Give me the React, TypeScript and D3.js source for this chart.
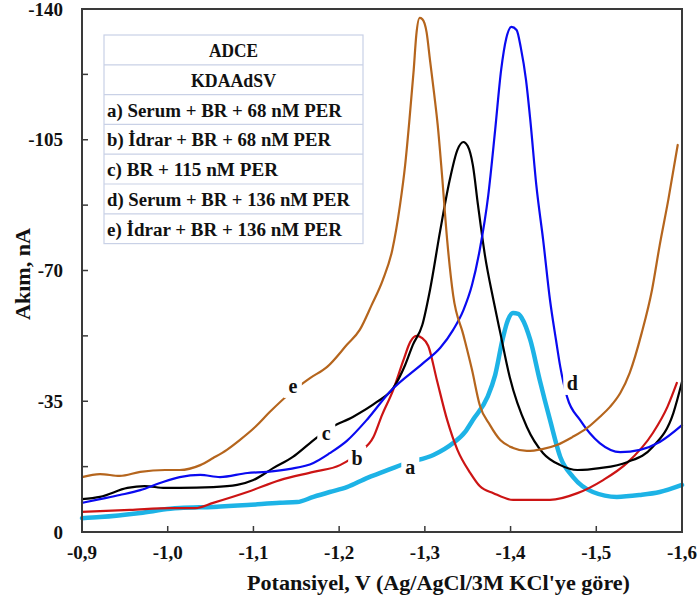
import React from "react";
import * as d3 from "d3";

// Potential (V) and current (nA) readings for each voltammogram
const curveA: [number, number][] = [
  [-0.9, -3.7], [-0.921, -4.0], [-0.968, -5.1], [-1.003, -6.2], [-1.014, -6.4], [-1.053, -6.7],
  [-1.093, -7.2], [-1.131, -7.8], [-1.151, -8.0], [-1.17, -9.4], [-1.189, -10.7], [-1.209, -12.0],
  [-1.233, -14.5], [-1.248, -15.8], [-1.279, -18.5], [-1.31, -20.6], [-1.333, -23.8], [-1.347, -26.8],
  [-1.356, -30.0], [-1.373, -36.1], [-1.382, -42.0], [-1.391, -51.9], [-1.397, -56.8], [-1.403, -58.6],
  [-1.409, -58.4], [-1.413, -57.3], [-1.423, -51.4], [-1.434, -40.7], [-1.446, -30.0], [-1.458, -20.1],
  [-1.473, -14.7], [-1.496, -10.7], [-1.524, -9.4], [-1.551, -9.9], [-1.574, -10.7], [-1.6, -12.6],
];
const curveB: [number, number][] = [
  [-0.9, -5.4], [-0.956, -5.9], [-1.003, -6.4], [-1.032, -6.4], [-1.053, -7.8], [-1.093, -10.7],
  [-1.131, -13.9], [-1.17, -16.1], [-1.201, -17.9], [-1.224, -21.4], [-1.24, -25.4], [-1.25, -31.3],
  [-1.263, -38.0], [-1.275, -46.0], [-1.283, -50.9], [-1.29, -52.5], [-1.297, -51.9], [-1.304, -49.8],
  [-1.314, -40.7], [-1.326, -30.0], [-1.338, -22.0], [-1.353, -15.8], [-1.364, -12.3], [-1.38, -10.4],
  [-1.403, -8.6], [-1.446, -8.6], [-1.478, -10.4], [-1.508, -13.9], [-1.536, -18.5], [-1.566, -26.5],
  [-1.583, -33.5], [-1.594, -39.9],
];
const curveC: [number, number][] = [
  [-0.9, -8.8], [-0.921, -9.4], [-0.953, -11.8], [-0.973, -12.3], [-0.997, -11.8], [-1.014, -11.8],
  [-1.053, -12.0], [-1.081, -12.6], [-1.1, -13.9], [-1.123, -17.1], [-1.146, -20.1], [-1.166, -23.8],
  [-1.189, -27.8], [-1.216, -30.8], [-1.244, -34.8], [-1.263, -38.5], [-1.277, -44.7], [-1.286, -50.1],
  [-1.297, -55.4], [-1.306, -64.8], [-1.318, -80.8], [-1.329, -94.2], [-1.338, -102.3], [-1.345, -104.4],
  [-1.35, -103.3], [-1.356, -98.2], [-1.362, -87.5], [-1.37, -74.2], [-1.38, -62.1], [-1.388, -53.3],
  [-1.399, -41.5], [-1.419, -28.1], [-1.438, -21.1], [-1.458, -17.9], [-1.478, -16.6], [-1.504, -17.1],
  [-1.536, -18.7], [-1.566, -22.8], [-1.59, -31.9], [-1.6, -40.2],
];
const curveD: [number, number][] = [
  [-0.9, -7.8], [-0.921, -8.8], [-0.944, -9.9], [-0.968, -11.2], [-0.991, -13.1], [-1.014, -14.7],
  [-1.038, -15.3], [-1.061, -14.7], [-1.093, -15.8], [-1.116, -16.1], [-1.143, -16.9], [-1.17, -18.5],
  [-1.189, -21.1], [-1.209, -24.4], [-1.233, -30.2], [-1.259, -37.5], [-1.298, -45.2], [-1.318, -49.3],
  [-1.333, -54.1], [-1.345, -59.4], [-1.355, -66.1], [-1.364, -75.5], [-1.374, -90.2], [-1.382, -107.6],
  [-1.389, -123.7], [-1.395, -132.2], [-1.401, -135.2], [-1.407, -134.4], [-1.412, -129.6], [-1.418, -121.0],
  [-1.423, -110.3], [-1.43, -92.9], [-1.438, -78.2], [-1.446, -62.1], [-1.453, -51.4], [-1.458, -44.2],
  [-1.466, -36.1], [-1.481, -30.0], [-1.504, -23.8], [-1.528, -21.4], [-1.551, -22.0], [-1.574, -24.1],
  [-1.6, -28.6],
];
const curveE: [number, number][] = [
  [-0.9, -14.7], [-0.921, -15.5], [-0.944, -15.0], [-0.968, -16.1], [-0.997, -16.6], [-1.014, -16.6],
  [-1.038, -17.9], [-1.053, -19.8], [-1.069, -22.0], [-1.084, -24.6], [-1.102, -28.1], [-1.119, -32.1],
  [-1.143, -37.2], [-1.166, -41.2], [-1.186, -44.2], [-1.209, -50.1], [-1.224, -54.1], [-1.238, -60.8],
  [-1.251, -67.5], [-1.262, -75.5], [-1.271, -87.5], [-1.277, -98.2], [-1.282, -110.3], [-1.287, -123.7],
  [-1.29, -133.0], [-1.294, -137.6], [-1.297, -137.3], [-1.302, -133.8], [-1.306, -126.3], [-1.311, -117.0],
  [-1.315, -108.9], [-1.32, -95.6], [-1.326, -78.2], [-1.333, -63.4], [-1.345, -52.7], [-1.355, -43.4],
  [-1.364, -34.0], [-1.376, -28.6], [-1.388, -24.6], [-1.403, -22.5], [-1.419, -21.7], [-1.437, -22.2],
  [-1.454, -23.3], [-1.472, -25.4], [-1.489, -27.8], [-1.504, -30.8], [-1.516, -33.5], [-1.528, -37.2],
  [-1.539, -42.6], [-1.553, -53.3], [-1.565, -64.8], [-1.574, -76.8], [-1.584, -88.9], [-1.595, -103.6],
];

const seriesIds = ["a", "b", "c", "d", "e"];
const seriesColors = ["#1db3e6", "#cc1414", "#000000", "#0a0af0", "#b5651d"];
const seriesWidths = [4.5, 2.2, 2.2, 2.2, 2.2];
const seriesData = [curveA, curveB, curveC, curveD, curveE];
// label anchor positions (V, nA)
const labelPos: [number, number][] = [
  [-1.283, -17.4], [-1.221, -19.8], [-1.185, -26.5], [-1.472, -39.9], [-1.146, -39.1],
];

const legendTitle = ["ADCE", "KDAAdSV"];
const legendRows = [
  "a) Serum + BR + 68 nM PER",
  "b) İdrar + BR + 68 nM PER",
  "c) BR + 115 nM PER",
  "d) Serum + BR + 136 nM PER",
  "e) İdrar + BR + 136 nM PER",
];
const legendTextWidths = [49, 85, 235, 224, 171, 243, 235];

const xTickValues = [-0.9, -1.0, -1.1, -1.2, -1.3, -1.4, -1.5, -1.6];
const yMajorTicks = [0, -35, -70, -105, -140];
const yAllTicks = [0, -17.5, -35, -52.5, -70, -87.5, -105, -122.5, -140];

const W = 698, H = 603;
const M = { left: 82, right: 682, top: 9, bottom: 532 };
const FONT = "'Liberation Serif', 'Times New Roman', serif";
const INK = "#111";

export default function App() {
  const x = d3.scaleLinear().domain([-0.9, -1.6]).range([M.left, M.right]);
  const y = d3.scaleLinear().domain([0, -140]).range([M.bottom, M.top]);
  const line = d3
    .line<[number, number]>()
    .x((d) => x(d[0]))
    .y((d) => y(d[1]))
    .curve(d3.curveMonotoneX);
  const fmtX = (v: number) => v.toFixed(1).replace(".", ",");

  const legX = 104, legY = 35, legW = 259, rowH = 29.8;
  const allRows = [...legendTitle, ...legendRows];

  return (
    <svg
      width={W}
      height={H}
      style={{ position: "absolute", left: 0, top: 0, background: "#fff" }}
      fontFamily={FONT}
      fontWeight="bold"
    >
      <rect x={0} y={0} width={W} height={H} fill="#fff" />
      {/* curves */}
      {seriesData.map((d, i) => (
        <path
          key={seriesIds[i]}
          d={line(d) || ""}
          fill="none"
          stroke={seriesColors[i]}
          strokeWidth={seriesWidths[i]}
          strokeLinejoin="round"
          strokeLinecap="round"
        />
      ))}
      {/* curve labels with gaps */}
      {labelPos.map((p, i) => (
        <g key={"lab" + i}>
          <rect x={x(p[0]) - 9} y={y(p[1]) - 12} width={18} height={24} fill="#fff" />
          <text
            x={x(p[0])}
            y={y(p[1])}
            textAnchor="middle"
            dominantBaseline="central"
            fontSize={20}
            fill={INK}
          >
            {seriesIds[i]}
          </text>
        </g>
      ))}
      {/* frame */}
      <rect
        x={M.left}
        y={M.top}
        width={M.right - M.left}
        height={M.bottom - M.top}
        fill="none"
        stroke="#3a3a3a"
        strokeWidth={2}
      />
      {/* x ticks */}
      {xTickValues.map((v) => (
        <g key={"xt" + v}>
          <line x1={x(v)} x2={x(v)} y1={M.bottom} y2={M.bottom - 6} stroke="#3a3a3a" strokeWidth={1.5} />
          <text x={x(v)} y={559} textAnchor="middle" fontSize={19} fill={INK}>
            {fmtX(v)}
          </text>
        </g>
      ))}
      {/* y ticks */}
      {yAllTicks.map((v) => (
        <line key={"yt" + v} x1={M.left} x2={M.left + 6} y1={y(v)} y2={y(v)} stroke="#3a3a3a" strokeWidth={1.5} />
      ))}
      {yMajorTicks.map((v) => (
        <text key={"yl" + v} x={63} y={y(v)} textAnchor="end" dominantBaseline="central" fontSize={19} fill={INK}>
          {v}
        </text>
      ))}
      {/* axis titles */}
      <text
        x={438.5}
        y={590}
        textAnchor="middle"
        fontSize={20}
        fill={INK}
        textLength={383}
        lengthAdjust="spacingAndGlyphs"
      >
        Potansiyel, V (Ag/AgCl/3M KCl'ye göre)
      </text>
      <text
        transform={`translate(23,274) rotate(-90)`}
        textAnchor="middle"
        dominantBaseline="central"
        fontSize={20}
        fill={INK}
        textLength={92}
        lengthAdjust="spacingAndGlyphs"
      >
        Akım, nA
      </text>
      {/* legend table */}
      <g>
        <rect x={legX} y={legY} width={legW} height={rowH * allRows.length} fill="#fff" stroke="#c9d1e6" strokeWidth={1.2} />
        {allRows.map((r, i) => (
          <g key={"row" + i}>
            {i > 0 && (
              <line x1={legX} x2={legX + legW} y1={legY + rowH * i} y2={legY + rowH * i} stroke="#c9d1e6" strokeWidth={1.2} />
            )}
            <text
              x={i < 2 ? legX + legW / 2 : legX + 3}
              y={legY + rowH * i + rowH / 2 + 1}
              textAnchor={i < 2 ? "middle" : "start"}
              dominantBaseline="central"
              fontSize={18}
              fill={INK}
              textLength={legendTextWidths[i]}
              lengthAdjust="spacingAndGlyphs"
            >
              {r}
            </text>
          </g>
        ))}
      </g>
    </svg>
  );
}
